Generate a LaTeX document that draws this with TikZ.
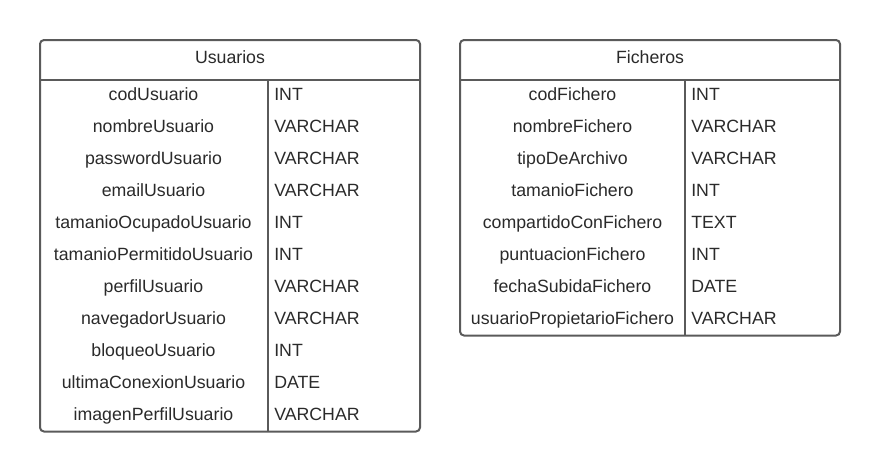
\documentclass[tikz,border=0pt]{standalone}
\usepackage{fontspec}
\setmainfont{Liberation Sans}
\definecolor{linegray}{HTML}{5A5A5A}
\definecolor{textgray}{HTML}{2A2A2A}
\begin{document}
\begin{tikzpicture}[x=0.75pt,y=-0.75pt,
  frame/.style={draw=linegray, line width=1.5pt, rounded corners=3pt},
  sep/.style={draw=linegray, line width=1.5pt},
  celltext/.style={font=\fontsize{13.3}{16}\selectfont, text=textgray, inner sep=0pt},
  title/.style={celltext, anchor=base},
  fieldname/.style={celltext, anchor=base},
  fieldtype/.style={celltext, anchor=base west}]
\useasboundingbox (0,0) rectangle (880,472);
% ---------- Usuarios ----------
\draw[frame] (40,40) rectangle (420,431.5);
\draw[sep] (40,79.5) -- (420,79.5);
\draw[sep] (267.5,79.5) -- (267.5,431.5);
\node[title] (usuarios) at (230,63.5) {Usuarios};
\foreach \n/\t [count=\i] in {codUsuario/INT, nombreUsuario/VARCHAR, passwordUsuario/VARCHAR, emailUsuario/VARCHAR, tamanioOcupadoUsuario/INT, tamanioPermitidoUsuario/INT, perfilUsuario/VARCHAR, navegadorUsuario/VARCHAR, bloqueoUsuario/INT, ultimaConexionUsuario/DATE, imagenPerfilUsuario/VARCHAR}{
  \node[fieldname] (u\i n) at (153.5,{68.9+32*\i}) {\n};
  \node[fieldtype] (u\i t) at (274,{68.9+32*\i}) {\t};
}
% ---------- Ficheros ----------
\draw[frame] (460,40) rectangle (840,335.5);
\draw[sep] (460,79.5) -- (840,79.5);
\draw[sep] (685,79.5) -- (685,335.5);
\node[title] (ficheros) at (650,63.5) {Ficheros};
\foreach \n/\t [count=\i] in {codFichero/INT, nombreFichero/VARCHAR, tipoDeArchivo/VARCHAR, tamanioFichero/INT, compartidoConFichero/TEXT, puntuacionFichero/INT, fechaSubidaFichero/DATE, usuarioPropietarioFichero/VARCHAR}{
  \node[fieldname] (f\i n) at (572.5,{68.9+32*\i}) {\n};
  \node[fieldtype] (f\i t) at (691,{68.9+32*\i}) {\t};
}
\end{tikzpicture}
\end{document}
